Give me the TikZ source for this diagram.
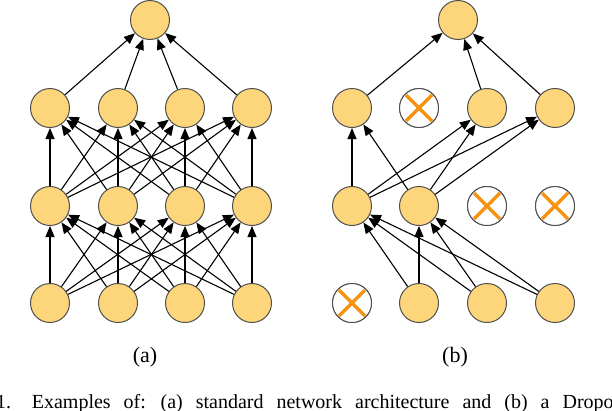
\documentclass[tikz,border=0pt]{standalone}
\usepackage{fontspec}
\setmainfont{Liberation Serif}
\usetikzlibrary{arrows.meta}
\definecolor{unitfill}{HTML}{FDD57A}
\definecolor{unitline}{HTML}{505050}
\definecolor{dropx}{HTML}{F7930E}
\begin{document}
\begin{tikzpicture}
        [ x=1pt, y=-1pt
        , unit/.style={circle, draw=unitline, line width=1pt, fill=unitfill, minimum size=39pt, inner sep=0pt}
        , drop/.style={unit, fill=white}
        , con/.style ={-{Triangle[length=11pt,width=9pt]}, line width=1.1pt}
        , cross/.style={draw=dropx, line width=3.5pt}
        ]
        \useasboundingbox (0,0) rectangle (612,410);
        \clip (0,0) rectangle (612,410);

        % (a) standard network
        \node (at) [unit] at (150,20) {};
        \foreach \i/\x in {1/50,2/118,3/185,4/252} {
            \node (a2\i) [unit] at (\x,108) {};
            \node (a1\i) [unit] at (\x,206) {};
            \node (a0\i) [unit] at (\x,303) {};
        }
        \foreach \i in {1,...,4} {
            \draw[con] (a2\i) -- (at);
            \foreach \j in {1,...,4} {
                \draw[con] (a0\i) -- (a1\j);
                \draw[con] (a1\i) -- (a2\j);
            }
        }

        % (b) after dropout
        \node (bt) [unit] at (458,20) {};
        \foreach \i/\x in {1/352,2/419,3/487,4/555} {
            \node (b2\i) [unit] at (\x,108) {};
            \node (b1\i) [unit] at (\x,206) {};
            \node (b0\i) [unit] at (\x,303) {};
        }
        \foreach \n in {b22,b13,b14,b01} {
            \node [drop] at (\n) {};
            \draw[cross] ([shift={(-13pt,-13pt)}]\n.center) -- ([shift={(13pt,13pt)}]\n.center);
            \draw[cross] ([shift={(-13pt,13pt)}]\n.center) -- ([shift={(13pt,-13pt)}]\n.center);
        }
        \foreach \i in {2,3,4} {
            \foreach \j in {1,2} {
                \draw[con] (b0\i) -- (b1\j);
            }
        }
        \foreach \i in {1,2} {
            \foreach \j in {1,3,4} {
                \draw[con] (b1\i) -- (b2\j);
            }
        }
        \foreach \j in {1,3,4} {
            \draw[con] (b2\j) -- (bt);
        }

        \node (la) [font=\fontsize{22}{26}\selectfont] at (145,357) {(a)};
        \node (lb) [font=\fontsize{22}{26}\selectfont] at (455,357) {(b)};
        \node (cap) [anchor=base west, font=\fontsize{20}{24}\selectfont, inner sep=0pt] at (-4,408)
            {\spaceskip=13pt 1.\hspace{6pt} Examples of: (a) standard network architecture and (b) a Dropout};
\end{tikzpicture}
\end{document}
